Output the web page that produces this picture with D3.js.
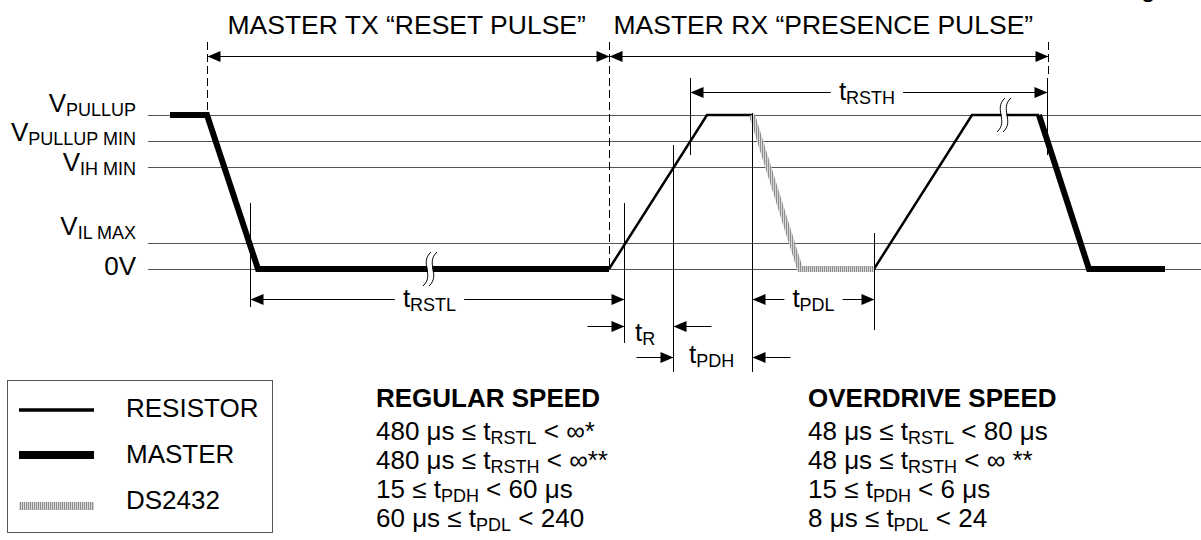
<!DOCTYPE html>
<html>
<head>
<meta charset="utf-8">
<script src="https://cdn.jsdelivr.net/npm/d3@7"></script>
<style>
  body { margin: 0; background: #fff; }
  svg { display: block; }
  text { font-family: "Liberation Sans", Arial, Helvetica, sans-serif; fill: #000; white-space: pre; }
</style>
</head>
<body>
<svg id="chart" width="1201" height="540"></svg>
<script>
/* Data: voltage levels (arbitrary level units) */
var levelNames = [["V", "PULLUP"], ["V", "PULLUP MIN"], ["V", "IH MIN"], ["V", "IL MAX"], ["0V", ""]];
var levelValues = [5.0, 4.15, 3.3, 0.85, 0];

/* Waveform segments, [time, level] */
var master1 = [[0, 5], [3.7, 5], [8.8, 0], [43.9, 0]];
var resistor1 = [[43.9, 0], [53.7, 5], [58.2, 5]];
var ds2432 = [[58.2, 5], [63.0, 0], [70.4, 0]];
var resistor2 = [[70.4, 0], [80.2, 5], [86.9, 5]];
var master2 = [[86.9, 5], [91.9, 0], [99.5, 0]];
var breaks = [[25.7, 0], [83.1, 5]];

/* Phases and timing intervals */
var phaseEdges = [3.7, 43.9, 87.8];
var phaseTitles = ["MASTER TX \u201CRESET PULSE\u201D", "MASTER RX \u201CPRESENCE PULSE\u201D"];
var intervalNames = ["RSTL", "RSTH", "PDL", "R", "PDH"];
var intervalFrom = [8.0, 52.0, 58.2, 45.4, 50.3];
var intervalTo = [45.4, 87.7, 70.4, 50.3, 58.2];

/* Legend and spec table */
var legendItems = ["RESISTOR", "MASTER", "DS2432"];
var specTitles = ["REGULAR SPEED", "OVERDRIVE SPEED"];
var regularSpecs = [
  ["480 \u03BCs \u2264 t", "RSTL", " < \u221E*"],
  ["480 \u03BCs \u2264 t", "RSTH", " < \u221E**"],
  ["15 \u2264 t", "PDH", " < 60 \u03BCs"],
  ["60 \u03BCs \u2264 t", "PDL", " < 240"]
];
var overdriveSpecs = [
  ["48 \u03BCs \u2264 t", "RSTL", " < 80 \u03BCs"],
  ["48 \u03BCs \u2264 t", "RSTH", " < \u221E **"],
  ["15 \u2264 t", "PDH", " < 6 \u03BCs"],
  ["8 \u03BCs \u2264 t", "PDL", " < 24"]
];

(function () {
  'use strict';

  /* Setup */
  var svg = d3.select("#chart");
  var x = d3.scaleLinear().domain([0, 100]).range([170, 1170]);
  var y = d3.scaleLinear().domain([0, 5]).range([269, 115]);
  var FS = 26, SUB = 18, SHIFT = 4;

  var pat = svg.append("defs").append("pattern")
    .attr("id", "hatch").attr("patternUnits", "userSpaceOnUse")
    .attr("width", 2).attr("height", 4);
  pat.append("rect").attr("width", 2).attr("height", 4).attr("fill", "#d6d6d6");
  pat.append("rect").attr("width", 1).attr("height", 4).attr("fill", "#8e8e8e");

  // text with alternating normal / subscript parts
  function richText(g, px, py, parts, anchor, weight) {
    var t = g.append("text").attr("x", px).attr("y", py)
      .attr("font-size", FS).attr("text-anchor", anchor || "start")
      .attr("font-weight", weight || "normal");
    var shifted = false;
    parts.forEach(function (p, i) {
      if (!p) return;
      var sub = i % 2 === 1;
      var ts = t.append("tspan").text(p);
      if (sub) { ts.attr("font-size", SUB).attr("dy", SHIFT); shifted = true; }
      else if (shifted) { ts.attr("dy", -SHIFT); shifted = false; }
    });
    return t;
  }

  function head(g, px, py, dir) {
    g.append("path")
      .attr("d", "M" + px + "," + py + "L" + (px - dir * 13) + "," + (py - 5.5) + "L" + (px - dir * 13) + "," + (py + 5.5) + "Z")
      .attr("fill", "#000");
  }

  function vline(g, px, y1, y2, dashed) {
    g.append("line").attr("x1", px).attr("x2", px).attr("y1", y1).attr("y2", y2)
      .attr("stroke", "#000").attr("stroke-width", 1)
      .attr("stroke-dasharray", dashed ? "8,4" : null);
  }

  /* Reference level lines */
  var ref = svg.append("g");
  ref.selectAll("line").data(levelValues).join("line")
    .attr("x1", 148).attr("x2", 1201)
    .attr("y1", function (d) { return Math.round(y(d)) + 0.5; })
    .attr("y2", function (d) { return Math.round(y(d)) + 0.5; })
    .attr("stroke", "#555").attr("stroke-width", 1);

  var labelDy = [-3, 0, 4, -8, 6];
  levelValues.forEach(function (v, i) {
    richText(ref, 136, y(v) + labelDy[i], levelNames[i], "end");
  });

  /* Phase markers and titles */
  var phaseG = svg.append("g");
  var xe = function (i) { return Math.round(x(phaseEdges[i])) + 0.5; };
  vline(phaseG, xe(0), 42, 115, true);
  vline(phaseG, xe(1), 42, 269, true);
  vline(phaseG, xe(2), 42, 78, true);
  phaseTitles.forEach(function (s, i) {
    var a = xe(i), b = xe(i + 1);
    phaseG.append("line").attr("x1", a).attr("x2", b).attr("y1", 56.5).attr("y2", 56.5)
      .attr("stroke", "#000").attr("stroke-width", 1);
    head(phaseG, a, 56.5, -1);
    head(phaseG, b, 56.5, 1);
    phaseG.append("text").attr("x", a + 20 - i * 16).attr("y", 34).attr("font-size", 26.5).text(s);
  });

  /* Waveforms */
  var line = d3.line().x(function (d) { return x(d[0]); }).y(function (d) { return y(d[1]); });
  var waves = svg.append("g").attr("fill", "none").attr("stroke-linejoin", "miter");
  [master1, master2].forEach(function (d) {
    waves.append("path").datum(d).attr("d", line).attr("stroke", "#000").attr("stroke-width", 6);
  });
  [resistor1, resistor2].forEach(function (d) {
    waves.append("path").datum(d).attr("d", line).attr("stroke", "#000").attr("stroke-width", 2.5);
  });
  waves.append("path").datum(ds2432).attr("d", line).attr("stroke", "url(#hatch)").attr("stroke-width", 6);

  /* Break symbols */
  breaks.forEach(function (b) {
    var cx = x(b[0]), cy = y(b[1]);
    var curve = function (dx) {
      return "M" + (cx + 4 + dx) + "," + (cy - 17) + "C" + (cx - 8 + dx) + "," + (cy - 6) + " " +
        (cx + 8 + dx) + "," + (cy + 6) + " " + (cx - 4 + dx) + "," + (cy + 17);
    };
    waves.append("path").attr("d", curve(3)).attr("stroke", "#fff").attr("stroke-width", 5);
    waves.append("path").attr("d", curve(0)).attr("stroke", "#000").attr("stroke-width", 1);
    waves.append("path").attr("d", curve(6)).attr("stroke", "#000").attr("stroke-width", 1);
  });

  /* Timing intervals */
  var tg = svg.append("g");
  var xi = function (v) { return Math.round(x(v)) + 0.5; };
  var from = intervalFrom.map(xi), to = intervalTo.map(xi);

  // marker lines
  vline(tg, from[0], 203, 307);          // tRSTL left
  vline(tg, to[0], 203, 343);            // tRSTL right / tR left
  vline(tg, to[3], 145, 372);            // tR right / tPDH left
  vline(tg, from[1], 78, 155);           // tRSTH left
  vline(tg, to[1], 78, 155);             // tRSTH right
  vline(tg, from[2], 113, 372);          // tPDL left / tPDH right
  vline(tg, to[2], 233, 330);            // tPDL right

  // spanning arrows with label
  var spanY = [299.5, 92.5, 299.5], spanDx = [-8, -2, 0];
  [0, 1, 2].forEach(function (i) {
    var a = from[i], b = to[i], yy = spanY[i];
    tg.append("line").attr("x1", a).attr("x2", b).attr("y1", yy).attr("y2", yy)
      .attr("stroke", "#000").attr("stroke-width", 1);
    head(tg, a, yy, -1);
    head(tg, b, yy, 1);
    var lbl = richText(tg, (a + b) / 2 + spanDx[i], yy + 7, ["t", intervalNames[i]], "middle");
    var bb = lbl.node().getBBox();
    tg.insert("rect", function () { return lbl.node(); })
      .attr("x", bb.x - 8).attr("y", yy - 3).attr("width", bb.width + 16).attr("height", 6)
      .attr("fill", "#fff");
  });

  // inward-pointing arrows
  var inY = [326.5, 357.5], inLabelX = [635, 689], inLabelY = [341, 363];
  [3, 4].forEach(function (i, k) {
    var a = from[i], b = to[i], yy = inY[k];
    tg.append("line").attr("x1", a - 37).attr("x2", a).attr("y1", yy).attr("y2", yy)
      .attr("stroke", "#000").attr("stroke-width", 1);
    head(tg, a, yy, 1);
    tg.append("line").attr("x1", b).attr("x2", b + 38).attr("y1", yy).attr("y2", yy)
      .attr("stroke", "#000").attr("stroke-width", 1);
    head(tg, b, yy, -1);
    richText(tg, inLabelX[k], inLabelY[k], ["t", intervalNames[i]], "start");
  });

  /* Legend */
  var lg = svg.append("g");
  lg.append("rect").attr("x", 7.5).attr("y", 380.5).attr("width", 265).attr("height", 152)
    .attr("fill", "none").attr("stroke", "#555").attr("stroke-width", 1);
  var legStroke = ["#000", "#000", "url(#hatch)"], legWidth = [3.5, 8, 8];
  var legY = [410, 455, 506], legTextY = [417, 463, 509];
  legendItems.forEach(function (name, i) {
    lg.append("line").attr("x1", 19).attr("x2", 94).attr("y1", legY[i]).attr("y2", legY[i])
      .attr("stroke", legStroke[i]).attr("stroke-width", legWidth[i]);
    lg.append("text").attr("x", 126).attr("y", legTextY[i]).attr("font-size", FS).text(name);
  });

  /* Spec table */
  var sg = svg.append("g");
  var colX = [376, 808];
  [regularSpecs, overdriveSpecs].forEach(function (rows, c) {
    sg.append("text").attr("x", colX[c]).attr("y", 407).attr("font-size", FS)
      .attr("font-weight", "bold").text(specTitles[c]);
    rows.forEach(function (r, j) {
      richText(sg, colX[c], 440 + j * 29, r, "start");
    });
  });

  /* Cut-off caption fragment at the top edge */
  svg.append("text").attr("x", 1141).attr("y", -3).attr("font-size", FS).text("g");
})();
</script>
</body>
</html>
